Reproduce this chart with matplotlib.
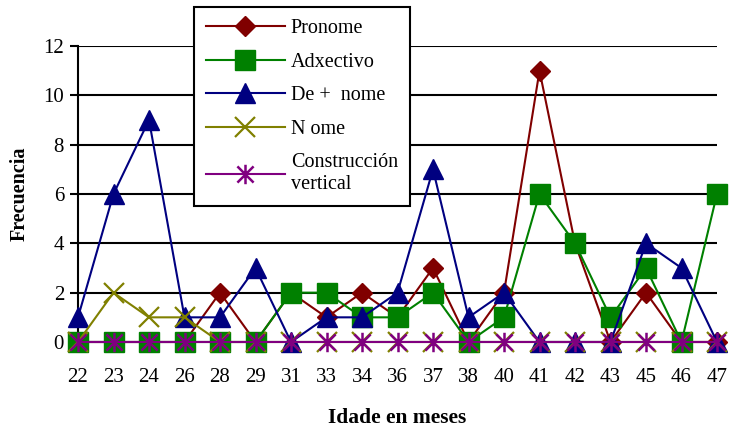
import matplotlib
matplotlib.use("Agg")
import matplotlib.pyplot as plt
from matplotlib.path import Path
import numpy as np

plt.rcParams['font.family'] = ['Liberation Serif', 'DejaVu Serif']

edades = ["22", "23", "24", "26", "28", "29", "31", "33", "34", "36",
          "37", "38", "40", "41", "42", "43", "45", "46", "47"]
pronome = [0, 0, 0, 0, 2, 0, 2, 1, 2, 1, 3, 0, 2, 11, 4, 0, 2, 0, 0]
adxectivo = [0, 0, 0, 0, 0, 0, 2, 2, 1, 1, 2, 0, 1, 6, 4, 1, 3, 0, 6]
de_nome = [1, 6, 9, 1, 1, 3, 0, 1, 1, 2, 7, 1, 2, 0, 0, 0, 4, 3, 0]
nome = [0, 2, 1, 1, 0, 0, 0, 0, 0, 0, 0, 0, 0, 0, 0, 0, 0, 0, 0]
construccion = [0] * 19
y_ticks = [0, 2, 4, 6, 8, 10, 12]

# asterisk marker: X plus vertical bar
ast = Path([(-1, -1), (1, 1), (-1, 1), (1, -1), (0, -1.2), (0, 1.2)],
           [Path.MOVETO, Path.LINETO, Path.MOVETO, Path.LINETO, Path.MOVETO, Path.LINETO])

fig = plt.figure(figsize=(7.3, 4.3), dpi=100)
ax = fig.add_axes([78/730, 1 - 342/430, (717-78)/730, (342-46)/430])

x = np.arange(len(edades))
series = [
    ("Pronome", pronome, "#800000", "D", 10.5, dict(mfc="#800000")),
    ("Adxectivo", adxectivo, "#008000", "s", 14, dict(mfc="#008000")),
    ("De +  nome", de_nome, "#000080", "^", 15, dict(mfc="#000080")),
    ("N ome", nome, "#808000", "x", 15, dict(mew=1.6)),
    ("Construcción\nvertical", construccion, "#800080", ast, 14, dict(mfc="none", mew=1.8)),
]
for i, (lab, vals, col, mk, ms, kw) in enumerate(series):
    ax.plot(x, vals, color=col, lw=1.5, marker=mk, ms=ms, mec=col,
            label=lab, clip_on=False, zorder=3 + i, **kw)

ax.set_xlim(0, len(edades) - 1)
ax.set_ylim(0, 12)
ax.set_yticks(y_ticks)
ax.set_xticks(x)
ax.set_xticklabels(edades)
ax.tick_params(axis='x', length=0, pad=19, labelsize=15)
ax.tick_params(axis='y', length=6, width=1.5, direction='out', pad=4, labelsize=15)
ax.yaxis.grid(True, color='black', lw=1.5)
ax.set_axisbelow(True)
for s in ['top', 'right', 'bottom']:
    ax.spines[s].set_visible(False)
ax.spines['left'].set_linewidth(1.5)

ax.set_xlabel("Idade en meses", fontsize=15.5, fontweight='bold', labelpad=15)
ax.set_ylabel("Frecuencia", fontsize=14.5, fontweight='bold', labelpad=10)

leg = fig.legend(loc='upper left', bbox_to_anchor=(194/730, 1 - 7/430),
                 bbox_transform=fig.transFigure, fontsize=14.5,
                 handlelength=3.9, handletextpad=0.3, labelspacing=0.72,
                 borderpad=0.6, fancybox=False, framealpha=1, borderaxespad=0)
leg.get_frame().set_edgecolor('black')
leg.get_frame().set_linewidth(1.5)
leg.set_zorder(20)

fig.savefig("out.png", dpi=100)
